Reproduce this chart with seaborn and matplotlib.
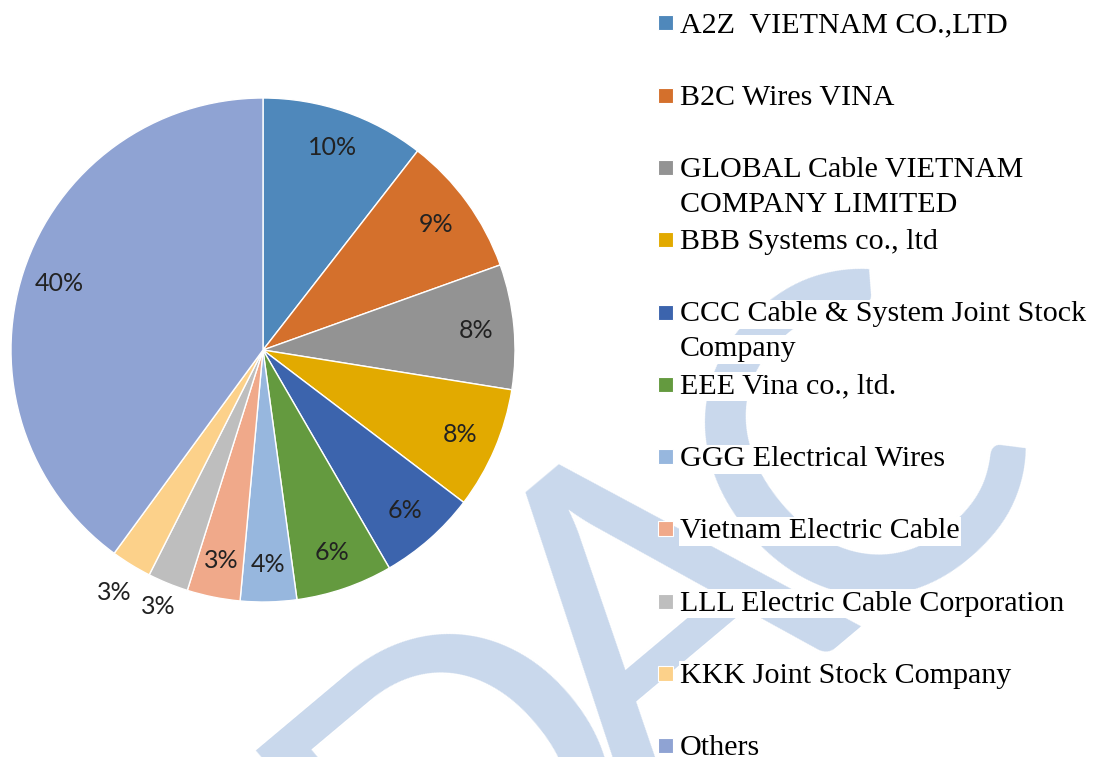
import numpy as np
import matplotlib
matplotlib.use("Agg")
import matplotlib.pyplot as plt
from matplotlib.patches import Rectangle
import seaborn as sns

# values (share of each company)
companies = [
    "A2Z  VIETNAM CO.,LTD",
    "B2C Wires VINA",
    "GLOBAL Cable VIETNAM\nCOMPANY LIMITED",
    "BBB Systems co., ltd",
    "CCC Cable & System Joint Stock\nCompany",
    "EEE Vina co., ltd.",
    "GGG Electrical Wires",
    "Vietnam Electric Cable",
    "LLL Electric Cable Corporation",
    "KKK Joint Stock Company",
    "Others",
]
shares = [10.5, 9.0, 8.0, 7.8, 6.3, 6.2, 3.6, 3.4, 2.6, 2.6, 39.9]
pct_labels = ["10%", "9%", "8%", "8%", "6%", "6%", "4%", "3%", "3%", "3%", "40%"]
slice_colors = ["#4F88BB", "#D4702C", "#939393", "#E2AA00", "#3C64AD", "#649A3F",
                "#97B7DE", "#F0A98A", "#BEBEBE", "#FCD18A", "#8FA3D3"]
watermark = "DAC"

sns.set_style("white")
palette = sns.color_palette(slice_colors)

W, H = 1094, 757
fig = plt.figure(figsize=(W / 100, H / 100), dpi=100)

# watermark behind everything, letters placed along a 40 deg diagonal
rot, gap = 40, 256
cx, cy = 641, 596  # centre of the middle letter, px from top-left
dx, dy = gap * np.cos(np.deg2rad(rot)), -gap * np.sin(np.deg2rad(rot))
for j, ch in enumerate(watermark):
    k = j - 1
    fig.text((cx + k * dx) / W, 1 - (cy + k * dy) / H, ch, fontsize=320, family="Lato",
             color="#C9D8EC", rotation=rot, rotation_mode="anchor",
             ha="center", va="center_baseline", zorder=-5)

ax = fig.add_axes([11 / W, (H - 602) / H, 504 / W, 504 / H])
ax.patch.set_visible(False)
wedges, _ = ax.pie(shares, colors=palette, startangle=90, counterclock=False, radius=1,
                   wedgeprops=dict(edgecolor="white", linewidth=1))
ax.set_xlim(-1, 1)
ax.set_ylim(-1, 1)
ax.set_aspect("equal")
ax.axis("off")

# small slices get their label just outside the pie
label_r = [0.85] * 8 + [1.1, 1.13, 0.85]
for w, lab, r in zip(wedges, pct_labels, label_r):
    ang = np.deg2rad((w.theta1 + w.theta2) / 2)
    ax.text(r * np.cos(ang), r * np.sin(ang), lab, ha="center", va="center",
            fontsize=18, family="Lato", color="#222222", clip_on=False)

# legend, Excel style: fixed step per entry, wrapped lines 35 px apart
top, step, line_step = 22.8, 72.3, 35
for i, (name, col) in enumerate(zip(companies, palette)):
    yc = top + i * step
    fig.patches.append(Rectangle((658 / W, 1 - (yc + 7.5) / H), 15 / W, 15 / H,
                                 transform=fig.transFigure, facecolor=col,
                                 edgecolor="white", linewidth=0.8, zorder=2))
    for k, line in enumerate(name.split("\n")):
        fig.text(680 / W, 1 - (yc + 9.5 + k * line_step) / H, line, ha="left", va="baseline",
                 fontsize=21.6, family="Liberation Serif", color="black",
                 bbox=dict(facecolor="white", edgecolor="none", pad=1), zorder=2)

fig.savefig("out.png", dpi=100)
